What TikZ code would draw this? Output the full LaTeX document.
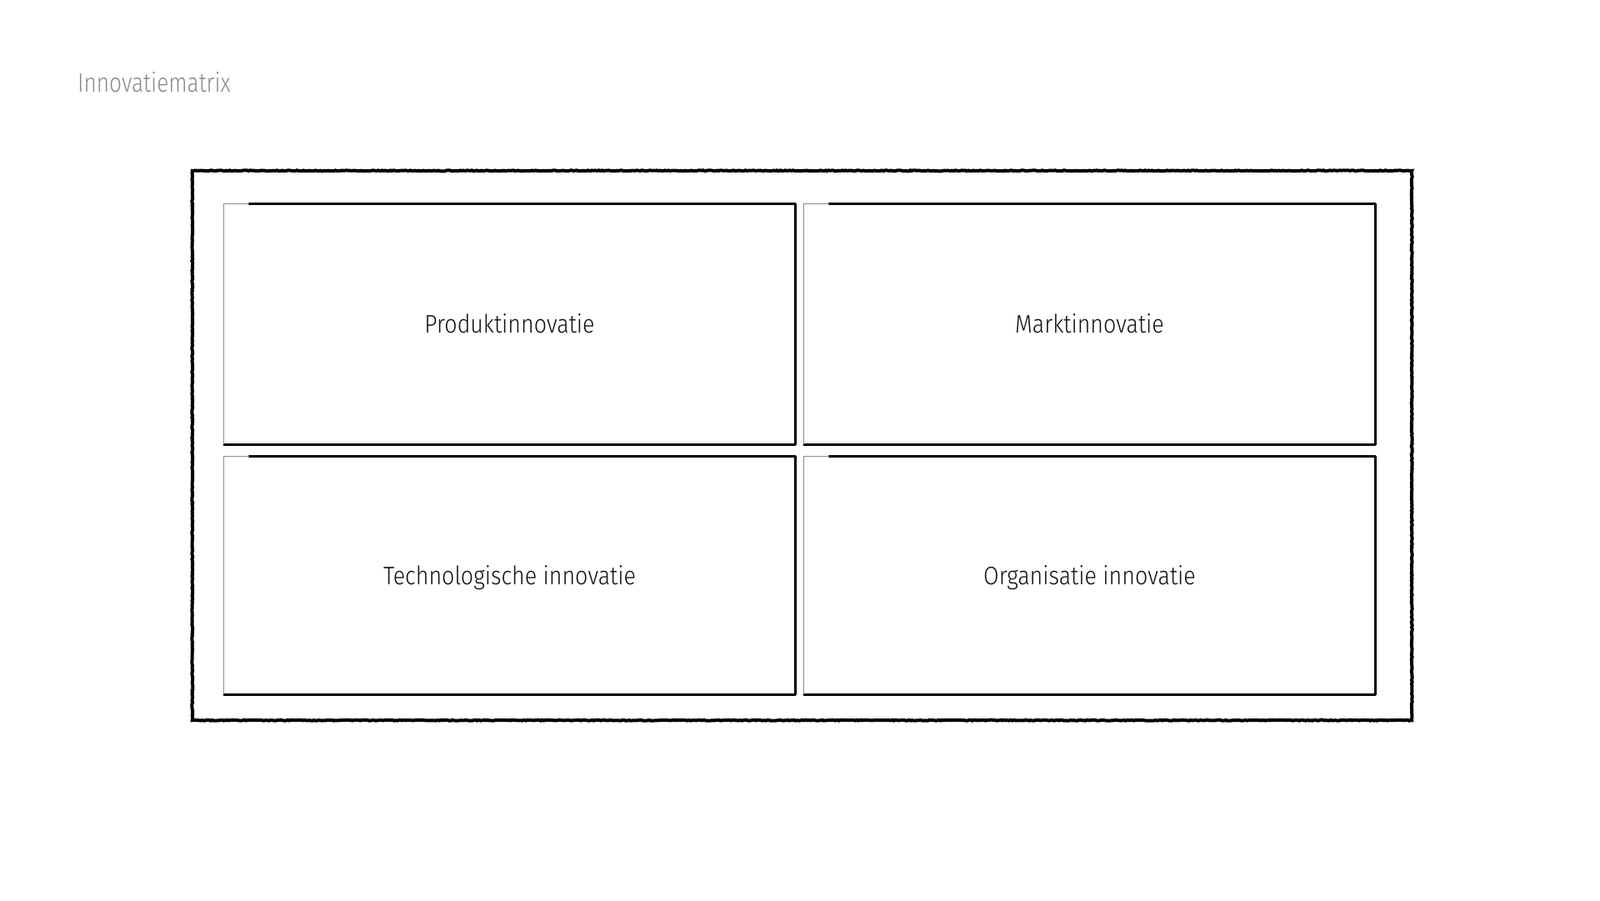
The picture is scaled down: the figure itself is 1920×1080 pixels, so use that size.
\documentclass[tikz,border=0pt]{standalone}
\usepackage{fontspec}
\setmainfont{Fira Sans}[UprightFont={* Light},FakeStretch=0.88]
\newfontfamily\titlefont{Fira Sans}[UprightFont={* Light},FakeStretch=0.82]
\usetikzlibrary{decorations.pathmorphing}
\definecolor{titlegray}{HTML}{8A8A8A}
\definecolor{ink}{HTML}{111111}
\begin{document}
\begin{tikzpicture}[x=1pt,y=-1pt,
  cell/.style={minimum width=685pt,minimum height=288pt,inner sep=0pt,text height=21pt,text depth=0pt,font=\fontsize{30.5}{34}\selectfont,text=ink},
  heavy/.style={line width=3pt,black,line cap=round,line join=round},
  light/.style={line width=0.8pt,black!45},
  frame/.style={line width=4pt,black,decorate,decoration={random steps,segment length=2pt,amplitude=0.5pt}}]
\useasboundingbox (0,0) rectangle (1920,1080);
\node[anchor=base west,inner sep=0pt,text=titlegray,font=\titlefont\fontsize{32}{36}\selectfont] (title) at (93,110) {Innovatiematrix};
\node[minimum width=1463pt,minimum height=659pt,inner sep=0pt] (outer) at (962.5,534.5) {};
\draw[frame] (outer.north west) rectangle (outer.south east);
\node[cell] (prod) at (611.5,389) {Produktinnovatie};
\node[cell] (markt) at (1307.5,389) {Marktinnovatie};
\node[cell,minimum height=285pt] (tech) at (611.5,690.5) {Technologische innovatie};
\node[cell,minimum height=285pt] (org) at (1307.5,690.5) {Organisatie innovatie};
\foreach \c in {prod,markt,tech,org}{
  \draw[heavy] ([xshift=30pt]\c.north west) -- (\c.north east) -- (\c.south east) -- (\c.south west);
  \draw[light] (\c.south west) -- (\c.north west) -- ([xshift=30pt]\c.north west);
}
\end{tikzpicture}
\end{document}
